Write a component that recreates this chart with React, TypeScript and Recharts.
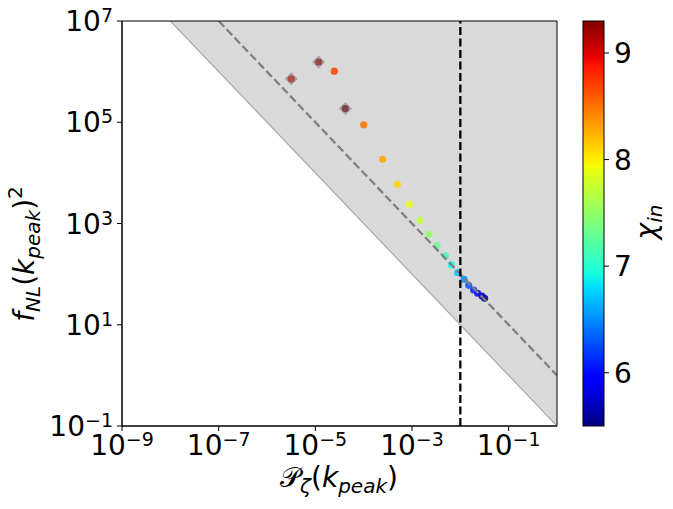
import React from "react";
import { ComposedChart, XAxis, YAxis, Scatter, Line, Area, ReferenceLine, ReferenceArea } from "recharts";

// chi_in of each run (colour), P_zeta(k_peak) (x) and f_NL(k_peak)^2 (y)
const chiIn = [5.5, 5.7, 5.9, 6.1, 6.3, 6.5, 6.7, 6.9, 7.1, 7.3, 7.5, 7.7, 7.9, 8.1, 8.3, 8.5, 8.7, 8.9, 9.1, 9.3];
const pZeta = [
  0.0318, 0.0281, 0.0228, 0.0188, 0.0149, 0.0119, 0.0088, 0.0065, 0.0049, 0.0033,
  0.00225, 0.00147, 0.00088, 0.0005, 0.000247, 0.0001, 2.47e-5, 3.18e-6, 1.17e-5, 4.17e-5,
];
const fnl2 = [
  33.3, 37, 41.9, 48.6, 60, 79, 107, 152, 229, 365,
  612, 1160, 2400, 5960, 18600, 89000, 1.02e6, 7.2e5, 1.55e6, 1.86e5,
];
// runs marked with a grey diamond
const marked = [8.9, 9.1, 9.3];

const xTicks = [1e-9, 1e-7, 1e-5, 1e-3, 1e-1];
const yTicks = [1e-1, 1e1, 1e3, 1e5, 1e7];
const cbarTicks = [6, 7, 8, 9];

// excluded region f_NL^2 * P > 0.1 and the f_NL^2 * P = 1 line
const shade = [
  { x: 1e-8, band: [1e7, 1e7] },
  { x: 1, band: [0.1, 1e7] },
];
const bound = [
  { x: 1e-8, y: 1e7 },
  { x: 1, y: 0.1 },
];
const unity = [
  { x: 1e-7, y: 1e7 },
  { x: 1, y: 1 },
];
const pkLimit = 0.01;

const points = chiIn.map((c, i) => ({ x: pZeta[i], y: fnl2[i], chi: c }));
const markedPoints = points.filter((p) => marked.includes(p.chi));

const vmin = Math.min(...chiIn);
const vmax = Math.max(...chiIn);

const JET = {
  r: [[0, 0], [0.35, 0], [0.66, 1], [0.89, 1], [1, 0.5]],
  g: [[0, 0], [0.125, 0], [0.375, 1], [0.64, 1], [0.91, 0], [1, 0]],
  b: [[0, 0.5], [0.11, 1], [0.34, 1], [0.65, 0], [1, 0]],
};
const chan = (pts: number[][], t: number) => {
  for (let i = 1; i < pts.length; i++) {
    if (t <= pts[i][0]) {
      const [x0, y0] = pts[i - 1];
      const [x1, y1] = pts[i];
      return y0 + ((t - x0) / (x1 - x0)) * (y1 - y0);
    }
  }
  return pts[pts.length - 1][1];
};
const jet = (t: number) => {
  const c = Math.max(0, Math.min(1, t));
  const h = (v: number) => Math.round(v * 255);
  return `rgb(${h(chan(JET.r, c))},${h(chan(JET.g, c))},${h(chan(JET.b, c))})`;
};
const norm = (v: number) => (v - vmin) / (vmax - vmin);

const FONT = "DejaVu Sans";
const expStr = (v: number) => {
  const e = Math.round(Math.log10(v));
  return e < 0 ? "\u2212" + Math.abs(e) : String(e);
};

const XTick = (props: any) => {
  const { x, y, payload } = props;
  return (
    <text x={x} y={y + 22} textAnchor="middle" fontFamily={FONT} fontSize={28} fill="#000">
      10<tspan dy={-9} fontSize={19}>{expStr(payload.value)}</tspan>
    </text>
  );
};

const YTick = (props: any) => {
  const { x, y, payload } = props;
  return (
    <text x={x - 2} y={y + 10} textAnchor="end" fontFamily={FONT} fontSize={28} fill="#000">
      10<tspan dy={-9} fontSize={19}>{expStr(payload.value)}</tspan>
    </text>
  );
};

const Dot = (p: any) => <circle cx={p.cx} cy={p.cy} r={3.6} fill={jet(norm(p.payload.chi))} fillOpacity={0.85} />;
const Diamond = (p: any) => {
  const d = 6.5;
  return (
    <polygon
      points={`${p.cx},${p.cy - d} ${p.cx + d},${p.cy} ${p.cx},${p.cy + d} ${p.cx - d},${p.cy}`}
      fill="#6e6e6e"
      fillOpacity={0.5}
    />
  );
};

// colour bar geometry
const CB = { x: 583, y: 21, w: 21, h: 405 };
const stops = [0, 0.11, 0.125, 0.34, 0.35, 0.375, 0.64, 0.65, 0.66, 0.89, 0.91, 1];

export default function App() {
  return (
    <div style={{ position: "absolute", left: 0, top: 0, width: 673, height: 509, background: "#fff" }}>
      <ComposedChart width={673} height={509} margin={{ top: 21, right: 116, bottom: 0, left: 0 }}>
        <XAxis
          type="number"
          dataKey="x"
          scale="log"
          domain={[1e-9, 1]}
          ticks={xTicks}
          allowDataOverflow
          height={83}
          tickSize={5}
          tick={<XTick />}
          stroke="#000"
          interval={0}
        />
        <YAxis
          type="number"
          dataKey="y"
          scale="log"
          domain={[1e-1, 1e7]}
          ticks={yTicks}
          allowDataOverflow
          width={122}
          tickSize={5}
          tick={<YTick />}
          stroke="#000"
          interval={0}
        />
        <Area
          data={shade}
          dataKey="band"
          type="linear"
          stroke="none"
          fill="#d9d9d9"
          fillOpacity={1}
          isAnimationActive={false}
          zIndex={100}
        />
        <Scatter data={points} shape={<Dot />} isAnimationActive={false} zIndex={300} />
        <Line
          data={bound}
          dataKey="y"
          type="linear"
          stroke="#a8a8a8"
          strokeWidth={1.2}
          dot={false}
          activeDot={false}
          isAnimationActive={false}
          zIndex={700}
        />
        <Line
          data={unity}
          dataKey="y"
          type="linear"
          stroke="#808080"
          strokeWidth={2.3}
          strokeDasharray="8 3.5"
          dot={false}
          activeDot={false}
          isAnimationActive={false}
          zIndex={700}
        />
        <ReferenceLine x={pkLimit} stroke="#000" strokeWidth={2.3} strokeDasharray="8 3.5" zIndex={750} />
        <Scatter data={markedPoints} shape={<Diamond />} isAnimationActive={false} zIndex={800} />
        <ReferenceArea x1={1e-9} x2={1} y1={1e-1} y2={1e7} fill="none" stroke="#000" strokeWidth={1} zIndex={900} />
      </ComposedChart>

      <svg width={673} height={509} style={{ position: "absolute", left: 0, top: 0, pointerEvents: "none" }}>
        <defs>
          <linearGradient id="jetGrad" x1="0" y1="1" x2="0" y2="0">
            {stops.map((s) => (
              <stop key={s} offset={s} stopColor={jet(s)} />
            ))}
          </linearGradient>
        </defs>
        <rect x={CB.x} y={CB.y} width={CB.w} height={CB.h} fill="url(#jetGrad)" stroke="#000" strokeWidth={1} />
        {cbarTicks.map((t) => {
          const ty = CB.y + CB.h * (1 - norm(t));
          return (
            <g key={t}>
              <line x1={CB.x + CB.w} x2={CB.x + CB.w + 5} y1={ty} y2={ty} stroke="#000" />
              <text x={CB.x + CB.w + 10} y={ty + 10} fontFamily={FONT} fontSize={28} fill="#000">
                {t}
              </text>
            </g>
          );
        })}
        <text transform="translate(656,222) rotate(-90)" textAnchor="middle" fontFamily={FONT} fontSize={28} fill="#000">
          <tspan fontStyle="italic">χ</tspan>
          <tspan fontStyle="italic" fontSize={20} dy={6}>in</tspan>
        </text>
        <text x={339} y={487} textAnchor="middle" fontFamily={FONT} fontSize={28} fill="#000">
          <tspan>𝒫</tspan>
          <tspan fontStyle="italic" fontSize={20} dy={6}>ζ</tspan>
          <tspan dy={-6}>(</tspan>
          <tspan fontStyle="italic">k</tspan>
          <tspan fontStyle="italic" fontSize={20} dy={6}>peak</tspan>
          <tspan dy={-6}>)</tspan>
        </text>
        <text transform="translate(34,254) rotate(-90)" textAnchor="middle" fontFamily={FONT} fontSize={28} fill="#000">
          <tspan fontStyle="italic">f</tspan>
          <tspan fontStyle="italic" fontSize={20} dy={6}>NL</tspan>
          <tspan dy={-6}>(</tspan>
          <tspan fontStyle="italic">k</tspan>
          <tspan fontStyle="italic" fontSize={20} dy={6}>peak</tspan>
          <tspan dy={-6}>)</tspan>
          <tspan fontSize={20} dy={-12}>2</tspan>
        </text>
      </svg>
    </div>
  );
}
